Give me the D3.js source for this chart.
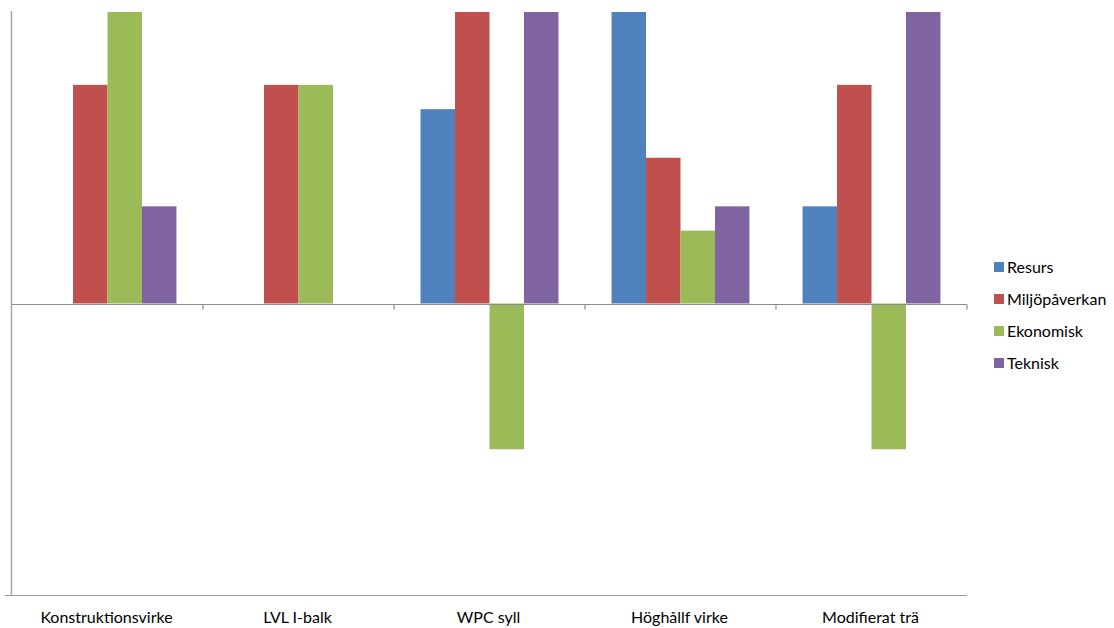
<!DOCTYPE html>
<html>
<head>
<meta charset="utf-8">
<script src="https://cdn.jsdelivr.net/npm/d3@7"></script>
<style>
  html, body { margin: 0; padding: 0; background: #fff; }
  svg { display: block; }
  text { font-family: Lato, "Open Sans", "Liberation Sans", sans-serif; fill: #000; }
</style>
</head>
<body>
<svg id="chart" width="1114" height="628"></svg>
<script>
const categories = ["Konstruktionsvirke", "LVL I-balk", "WPC syll", "Höghållf virke", "Modifierat trä"];
const seriesNames = ["Resurs", "Miljöpåverkan", "Ekonomisk", "Teknisk"];
const resurs        = [0,   0,   4,  6,   2];
const miljopaverkan = [4.5, 4.5, 6,  3,   4.5];
const ekonomisk     = [6,   4.5, -3, 1.5, -3];
const teknisk       = [2,   0,   6,  2,   6];
const colors = ["#4F81BD", "#C0504D", "#9BBB59", "#8064A2"];
const yDomain = [-6, 6];

const seriesValues = [resurs, miljopaverkan, ekonomisk, teknisk];
const svg = d3.select("#chart");

const mLeft = 12, mRight = 967, mTop = 12, mBottom = 595;

const x = d3.scaleBand().domain(categories).range([mLeft, mRight]).paddingInner(0).paddingOuter(0);
const xInner = d3.scaleBand().domain(seriesNames).range([0, x.bandwidth()]).paddingInner(0).paddingOuter(0.77);
const y = d3.scaleLinear().domain(yDomain).range([mBottom, mTop]);

// bars
const groups = svg.append("g").selectAll("g")
  .data(categories).join("g")
  .attr("transform", d => `translate(${x(d)},0)`);

groups.selectAll("rect")
  .data((c, ci) => seriesNames.map((s, si) => ({ s, v: seriesValues[si][ci], color: colors[si] })))
  .join("rect")
  .attr("x", d => xInner(d.s))
  .attr("width", xInner.bandwidth())
  .attr("y", d => y(Math.max(0, d.v)))
  .attr("height", d => Math.abs(y(d.v) - y(0)))
  .attr("fill", d => d.color);

// bottom line
svg.append("line")
  .attr("x1", 5).attr("x2", mRight)
  .attr("y1", y(yDomain[0]) + 0.5).attr("y2", y(yDomain[0]) + 0.5)
  .attr("stroke", "#9a9a9a").attr("stroke-width", 1.2);

// y axis line
svg.append("line")
  .attr("x1", mLeft - 0.5).attr("x2", mLeft - 0.5)
  .attr("y1", y(yDomain[1]) - 1).attr("y2", y(yDomain[0]) + 1)
  .attr("stroke", "#a6a6a6").attr("stroke-width", 1.5);

// zero axis with category boundary ticks
const zeroY = Math.round(y(0)) + 0.5;
svg.append("line")
  .attr("x1", mLeft).attr("x2", mRight)
  .attr("y1", zeroY).attr("y2", zeroY)
  .attr("stroke", "#8c8c8c").attr("stroke-width", 1.2);

const tickXs = categories.map(c => x(c)).concat([x(categories[categories.length - 1]) + x.bandwidth()]).slice(1);
svg.append("g").selectAll("line").data(tickXs).join("line")
  .attr("x1", d => d).attr("x2", d => d)
  .attr("y1", zeroY).attr("y2", zeroY + 5)
  .attr("stroke", "#8c8c8c").attr("stroke-width", 1.2);

// category labels
svg.append("g").selectAll("text").data(categories).join("text")
  .attr("x", d => x(d) + x.bandwidth() / 2 - 1)
  .attr("y", 623)
  .attr("text-anchor", "middle")
  .attr("font-size", 16)
  .text(d => d);

// legend
const legend = svg.append("g").attr("transform", "translate(994,262)");
const li = legend.selectAll("g").data(seriesNames).join("g")
  .attr("transform", (d, i) => `translate(0,${i * 32})`);
li.append("rect").attr("x", 0).attr("y", 0).attr("width", 10).attr("height", 10)
  .attr("fill", (d, i) => colors[i]);
li.append("text").attr("x", 13).attr("y", 11).attr("font-size", 16).text(d => d);
</script>
</body>
</html>
